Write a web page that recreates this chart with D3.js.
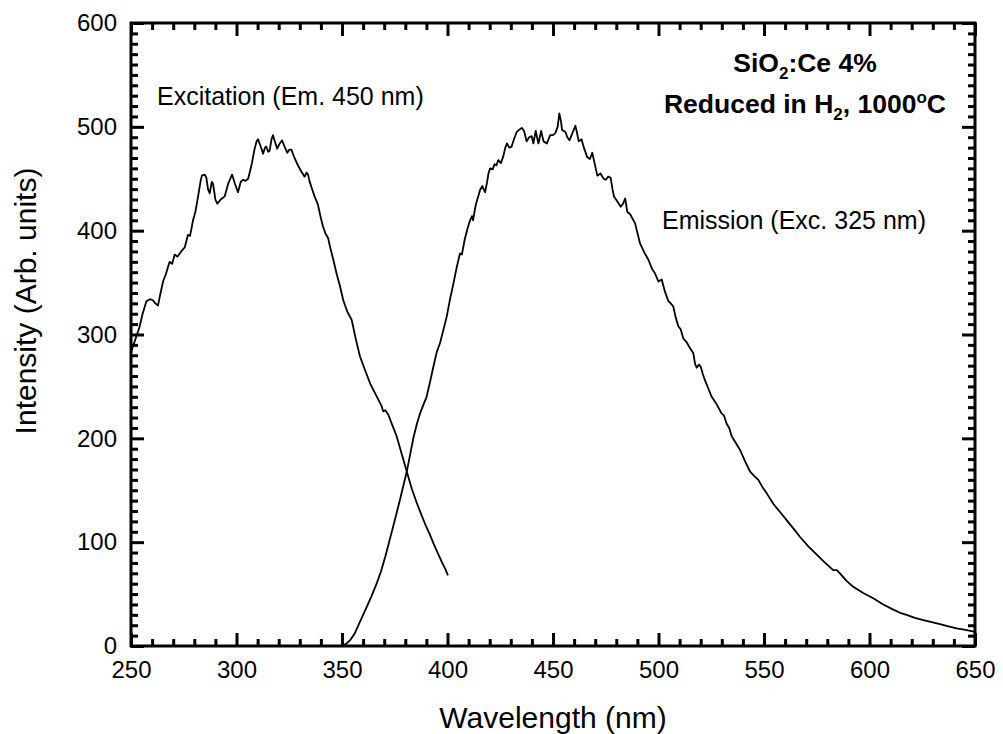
<!DOCTYPE html>
<html>
<head>
<meta charset="utf-8">
<script src="https://cdn.jsdelivr.net/npm/d3@7/dist/d3.min.js"></script>
<style>
  html, body { margin: 0; padding: 0; background: #fff; }
  svg { display: block; font-family: Arial, "Liberation Sans", sans-serif; }
</style>
</head>
<body>
<svg id="chart" width="1003" height="734"></svg>
<script>
// Photoluminescence spectra of SiO2:Ce 4% reduced in H2 at 1000 °C
// [wavelength (nm), intensity (arb. units)]
const excitation = [
  [250, 283], [252, 295], [254, 307], [255.5, 320], [257.3, 332], [259, 334],
  [260.4, 333], [261.5, 330], [262.8, 328], [264, 340], [265.2, 351], [266.5, 358],
  [268.3, 370], [269.5, 368], [270.7, 377], [272, 375], [273.8, 380], [275.5, 384],
  [277, 396], [278, 395], [279.4, 410], [280.5, 418], [281.8, 433], [283.0, 448],
  [283.6, 453], [285.0, 454], [285.7, 451], [286.5, 440], [287.3, 436], [288.3, 447],
  [288.9, 445], [290, 430], [290.9, 426], [292.5, 430], [294.4, 433], [296, 445],
  [297.9, 454], [299.3, 445], [300.7, 437], [302, 447], [303.1, 449], [304.3, 448],
  [305.5, 450], [306.5, 458], [307.3, 465], [308.5, 478], [309.5, 486], [310.2, 488],
  [311.3, 482], [312.6, 474], [313.5, 480], [314.1, 481], [315.0, 476], [315.7, 477],
  [316.6, 488], [317.3, 492], [318.3, 485], [319.3, 479], [320.5, 484], [321.6, 487],
  [322.8, 481], [324.1, 475], [325, 478], [326, 478], [327.5, 470], [329.1, 463],
  [330.7, 457], [332.3, 452], [333.2, 456], [333.9, 454], [334.7, 447], [335.5, 442],
  [337, 433], [338.6, 425], [340, 412], [341, 404], [342.2, 397], [343.4, 393],
  [344.5, 383], [345.9, 372], [347.5, 358], [349, 347], [350.6, 333], [352.5, 322],
  [354.6, 314], [356.5, 296], [358.5, 279], [360.5, 268], [363.3, 253], [366, 242],
  [368.8, 231], [369.5, 226], [370.5, 227], [371.9, 223], [373.8, 213], [375.9, 202],
  [378.3, 185], [380.7, 168], [383, 152], [385.4, 138], [387.5, 127], [389.5, 117],
  [391.5, 108], [393.3, 99], [395.5, 89], [397.5, 80], [399, 74], [400.2, 68]
];

const emission = [
  [350, 0], [352, 2], [354, 6], [356, 12], [358, 21], [360, 30], [362, 39], [364, 48],
  [366.4, 60], [368.5, 72], [370.5, 86], [372.7, 103], [375, 121], [377.5, 141],
  [380.7, 168], [383.8, 200], [385.5, 214], [387, 224], [388.5, 232], [390.1, 240],
  [391.7, 254], [393.3, 269], [394.9, 283], [396.5, 292], [398, 304], [399.6, 317],
  [401.2, 334], [402.8, 349], [404.4, 365], [405.9, 378], [406.8, 377], [408.2, 392],
  [409.5, 402], [410.7, 410], [411.6, 414], [412.1, 410], [413.3, 424], [414.4, 432],
  [415.4, 439], [416.5, 443], [417.8, 437], [418.7, 446], [419.4, 455], [420.2, 460],
  [421.4, 459], [422.3, 464], [423.2, 463], [424.1, 468], [425.3, 465], [426.5, 472],
  [427.4, 480], [428.2, 484], [429.3, 480], [430.4, 481], [431.5, 488], [432.8, 495],
  [433.8, 497], [435.2, 499], [436.3, 496], [437.5, 486], [438.7, 490], [439.9, 491],
  [440.7, 484], [441.8, 496], [443.1, 484], [444.4, 496], [445.5, 486], [447.1, 484],
  [448.7, 492], [450, 492], [451.1, 494], [452.2, 500], [453, 513], [453.8, 505],
  [454.3, 497], [455.9, 495], [456.8, 490], [457.8, 487], [459, 493], [460.6, 501],
  [461.4, 494], [462.2, 486], [463.5, 488], [464.8, 479], [466.2, 471], [467.5, 469],
  [468.6, 475], [469.6, 466], [471, 453], [472.5, 455], [474, 450], [475, 449],
  [476.2, 452], [477.3, 451], [478.2, 440], [478.9, 433], [480.5, 428], [482.1, 423],
  [483.2, 426], [484.2, 431], [485.2, 418], [486.5, 416], [488.9, 407], [490, 398],
  [491.2, 388], [493, 380], [495.2, 372], [497, 363], [498.3, 359], [500, 351],
  [501.5, 353], [503.1, 341], [504.7, 332], [505.8, 330], [507, 327], [508.2, 316],
  [509.4, 308], [510.5, 305], [511.8, 296], [513.2, 293], [514.9, 287], [516.5, 282],
  [517.3, 272], [518.1, 268], [519.2, 271], [520, 269], [521, 262], [522, 256],
  [523.6, 248], [525.2, 240], [527.5, 233], [529.9, 224], [531, 222], [532.3, 214],
  [533.5, 210], [534.7, 202], [536.5, 196], [538.6, 189], [541, 178], [543.4, 168],
  [545.2, 164], [547.3, 160], [549.3, 153], [551.3, 147], [554.4, 137], [557.6, 129],
  [560.8, 121], [564, 113], [567.1, 105], [571, 96], [575, 88], [579, 80],
  [582.8, 73], [584.5, 73], [586, 70], [589, 63], [592.3, 57], [597, 51],
  [601.8, 46], [606.5, 40], [611.3, 35], [614.5, 32], [617.6, 30], [621.5, 27],
  [625.5, 25], [629.5, 23], [633.4, 21], [637.4, 19], [641.3, 17], [645.5, 15.5],
  [650, 13.5]
];

// Axis ranges and tick values
const xDomain = [250, 650];
const yDomain = [0, 600];
const xMajorTicks = [250, 300, 350, 400, 450, 500, 550, 600, 650];
const yMajorTicks = [0, 100, 200, 300, 400, 500, 600];
const xMinorTicks = d3.range(250, 651, 10).filter(v => v % 50 !== 0);
const yMinorTicks = d3.range(0, 601, 10).filter(v => v % 100 !== 0);

const margin = { left: 131, top: 23, right: 28, bottom: 88 };
const width = 1003 - margin.left - margin.right;
const height = 734 - margin.top - margin.bottom;

const svg = d3.select("#chart");
const g = svg.append("g").attr("transform", `translate(${margin.left},${margin.top})`);

const x = d3.scaleLinear().domain(xDomain).range([0, width]);
const y = d3.scaleLinear().domain(yDomain).range([height, 0]);

const MAJOR = 13, MINOR = 7;

function styleAxis(sel, showLabels) {
  sel.select(".domain").remove();
  sel.selectAll(".tick line").attr("stroke", "#000").attr("stroke-width", 3);
  if (showLabels) {
    sel.selectAll(".tick text").attr("fill", "#000").attr("font-size", 24)
      .attr("font-family", "Arial, 'Liberation Sans', sans-serif");
  } else {
    sel.selectAll(".tick text").remove();
  }
}

// Bottom axis
g.append("g").attr("transform", `translate(0,${height})`)
  .call(d3.axisBottom(x).tickValues(xMajorTicks).tickSize(-MAJOR).tickPadding(15).tickFormat(d3.format("d")))
  .call(s => styleAxis(s, true));
g.append("g").attr("transform", `translate(0,${height})`)
  .call(d3.axisBottom(x).tickValues(xMinorTicks).tickSize(-MINOR))
  .call(s => styleAxis(s, false));
// Top axis
g.append("g")
  .call(d3.axisTop(x).tickValues(xMajorTicks).tickSize(-MAJOR))
  .call(s => styleAxis(s, false));
g.append("g")
  .call(d3.axisTop(x).tickValues(xMinorTicks).tickSize(-MINOR))
  .call(s => styleAxis(s, false));
// Left axis
g.append("g")
  .call(d3.axisLeft(y).tickValues(yMajorTicks).tickSize(-MAJOR).tickPadding(14).tickFormat(d3.format("d")))
  .call(s => styleAxis(s, true));
g.append("g")
  .call(d3.axisLeft(y).tickValues(yMinorTicks).tickSize(-MINOR))
  .call(s => styleAxis(s, false));
// Right axis
g.append("g").attr("transform", `translate(${width},0)`)
  .call(d3.axisRight(y).tickValues(yMajorTicks).tickSize(-MAJOR))
  .call(s => styleAxis(s, false));
g.append("g").attr("transform", `translate(${width},0)`)
  .call(d3.axisRight(y).tickValues(yMinorTicks).tickSize(-MINOR))
  .call(s => styleAxis(s, false));

// Plot frame
g.append("rect")
  .attr("x", 0).attr("y", 0).attr("width", width).attr("height", height)
  .attr("fill", "none").attr("stroke", "#000").attr("stroke-width", 3);

// Spectra
const line = d3.line().x(d => x(d[0])).y(d => y(d[1]));
g.append("path").datum(excitation)
  .attr("d", line).attr("fill", "none").attr("stroke", "#000")
  .attr("stroke-width", 1.8).attr("stroke-linejoin", "round");
g.append("path").datum(emission)
  .attr("d", line).attr("fill", "none").attr("stroke", "#000")
  .attr("stroke-width", 1.8).attr("stroke-linejoin", "round");

// Axis titles
svg.append("text")
  .attr("x", 553).attr("y", 728)
  .attr("text-anchor", "middle").attr("font-size", 30).attr("fill", "#000")
  .text("Wavelength (nm)");
svg.append("text")
  .attr("transform", "translate(36,301) rotate(-90)")
  .attr("text-anchor", "middle").attr("font-size", 30).attr("fill", "#000")
  .text("Intensity (Arb. units)");

// Curve labels
svg.append("text")
  .attr("x", 157).attr("y", 105).attr("font-size", 25).attr("fill", "#000")
  .text("Excitation (Em. 450 nm)");
svg.append("text")
  .attr("x", 662).attr("y", 229).attr("font-size", 25).attr("fill", "#000")
  .text("Emission (Exc. 325 nm)");

// Sample annotation
const note1 = svg.append("text")
  .attr("x", 805).attr("y", 72).attr("text-anchor", "middle")
  .attr("font-size", 26.5).attr("font-weight", "bold").attr("fill", "#000");
note1.append("tspan").text("SiO");
note1.append("tspan").attr("font-size", 17).attr("dy", 7).text("2");
note1.append("tspan").attr("dy", -7).text(":Ce 4%");

const note2 = svg.append("text")
  .attr("x", 805).attr("y", 113).attr("text-anchor", "middle")
  .attr("font-size", 26.5).attr("font-weight", "bold").attr("fill", "#000");
note2.append("tspan").text("Reduced in H");
note2.append("tspan").attr("font-size", 17).attr("dy", 7).text("2");
note2.append("tspan").attr("dy", -7).text(", 1000");
note2.append("tspan").attr("font-size", 17).attr("dy", -10).text("o");
note2.append("tspan").attr("dy", 10).text("C");
</script>
</body>
</html>
